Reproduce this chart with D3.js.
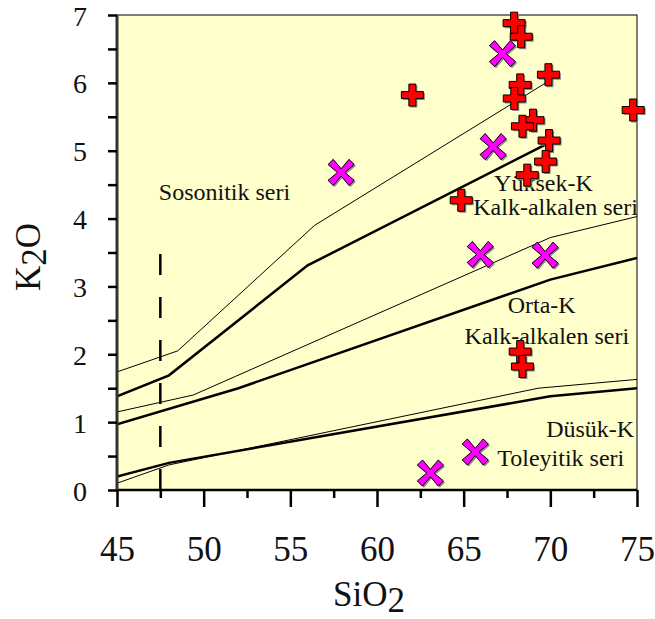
<!DOCTYPE html>
<html>
<head>
<meta charset="utf-8">
<script src="https://cdnjs.cloudflare.com/ajax/libs/d3/7.8.5/d3.min.js"></script>
<style>
  body { margin: 0; background: #fff; }
  svg text { font-family: "Liberation Serif", "Times New Roman", serif; fill: #111; }
</style>
</head>
<body>
<svg id="chart" width="655" height="619"></svg>
<script>
// tick values
var xTicks = [45, 47.5, 50, 52.5, 55, 57.5, 60, 62.5, 65, 67.5, 70, 72.5, 75];
var yTicks = [0, 0.5, 1, 1.5, 2, 2.5, 3, 3.5, 4, 4.5, 5, 5.5, 6, 6.5, 7];

// boundary lines [SiO2, K2O]
var thickHighShos = [[45, 1.38], [48, 1.69], [56, 3.31], [69.8, 5.1]];
var thickMedHigh  = [[45, 0.97], [52, 1.5], [70, 3.1], [75, 3.42]];
var thickLowMed   = [[45, 0.2], [48, 0.4], [70, 1.38], [75, 1.5]];
var thinHighShos  = [[45, 1.74], [48.5, 2.05], [56.4, 3.9], [70.5, 6.12]];
var thinMedHigh   = [[45, 1.15], [49.4, 1.4], [70, 3.72], [75, 4.03]];
var thinLowMed    = [[45, 0.1], [48, 0.37], [69.3, 1.5], [75, 1.63]];
var dashedLine    = [[47.5, 0], [47.5, 3.57]];

// samples
var crossPts = [[67.91, 6.88], [68.32, 6.68], [69.89, 6.12], [68.26, 5.97], [67.92, 5.77],
                [62.04, 5.82], [74.78, 5.6], [69.0, 5.45], [68.39, 5.36], [69.93, 5.15],
                [69.73, 4.84], [68.67, 4.64], [64.86, 4.27], [68.26, 2.04], [68.39, 1.82]];
var xPts = [[67.24, 6.43], [66.7, 5.06], [57.93, 4.68], [65.96, 3.47], [69.7, 3.46],
            [65.67, 0.56], [63.08, 0.25]];

// field labels [text, SiO2, K2O]
var fieldLabels = [
  ["Sosonitik seri", 51.2, 4.27],
  ["Yüksek-K", 69.6, 4.41],
  ["Kalk-alkalen seri", 70.3, 4.06],
  ["Orta-K", 69.5, 2.61],
  ["Kalk-alkalen seri", 69.8, 2.15],
  ["Düsük-K", 72.3, 0.78],
  ["Toleyitik seri", 70.6, 0.36]
];

var svg = d3.select("#chart");
var x = d3.scaleLinear().domain([45, 75]).range([117, 637]);
var y = d3.scaleLinear().domain([0, 7]).range([490, 15]);

svg.append("defs").append("clipPath").attr("id", "clip")
  .append("rect").attr("x", x(45)).attr("y", y(7))
  .attr("width", x(75) - x(45)).attr("height", y(0) - y(7));

// plot background
svg.append("rect")
  .attr("x", x(45)).attr("y", y(7))
  .attr("width", x(75) - x(45)).attr("height", y(0) - y(7))
  .attr("fill", "#ffffcc").attr("stroke", "#000").attr("stroke-width", 1);

var plot = svg.append("g").attr("clip-path", "url(#clip)");
var line = d3.line().x(function(d) { return x(d[0]); }).y(function(d) { return y(d[1]); });

[thinHighShos, thinMedHigh, thinLowMed].forEach(function(l) {
  plot.append("path").datum(l).attr("d", line)
    .attr("fill", "none").attr("stroke", "#000").attr("stroke-width", 1);
});
[thickHighShos, thickMedHigh, thickLowMed].forEach(function(l) {
  plot.append("path").datum(l).attr("d", line)
    .attr("fill", "none").attr("stroke", "#000").attr("stroke-width", 2.5);
});
plot.append("path").datum(dashedLine).attr("d", line)
  .attr("fill", "none").attr("stroke", "#000").attr("stroke-width", 2.5)
  .attr("stroke-dasharray", "21,22");

// field labels
svg.selectAll("text.field").data(fieldLabels).enter().append("text")
  .attr("class", "field")
  .attr("x", function(d) { return x(d[1]); })
  .attr("y", function(d) { return y(d[2]); })
  .attr("text-anchor", "middle")
  .style("font-size", "24px")
  .text(function(d) { return d[0]; });

// markers
var plusPath = "M-3.5,-11H3.5V-3.5H11V3.5H3.5V11H-3.5V3.5H-11V-3.5H-3.5Z";
var xPath = (function() {
  var a = 2.6, b = 10.5;
  return "M0," + (-a * 1.41) + "L" + (b - a) + "," + (-b - a) + "L" + (b + a) + "," + (-b + a) +
    "L" + (a * 1.41) + ",0L" + (b + a) + "," + (b - a) + "L" + (b - a) + "," + (b + a) +
    "L0," + (a * 1.41) + "L" + (-b + a) + "," + (b + a) + "L" + (-b - a) + "," + (b - a) +
    "L" + (-a * 1.41) + ",0L" + (-b - a) + "," + (-b + a) + "L" + (-b + a) + "," + (-b - a) + "Z";
})();

function drawMarkers(data, path, color) {
  var g = svg.append("g");
  g.selectAll("path.shadow").data(data).enter().append("path")
    .attr("d", path).attr("fill", "#8a8a8a")
    .attr("transform", function(d) { return "translate(" + (x(d[0]) + 1.5) + "," + (y(d[1]) + 1.5) + ")"; });
  g.selectAll("path.mark").data(data).enter().append("path")
    .attr("d", path).attr("fill", color).attr("stroke", "#000").attr("stroke-width", 1)
    .attr("transform", function(d) { return "translate(" + x(d[0]) + "," + y(d[1]) + ")"; });
}
drawMarkers(xPts, xPath, "#ff00ff");
drawMarkers(crossPts, plusPath, "#ff0000");

// axes
var xAxis = d3.axisBottom(x).tickValues(xTicks).tickSize(17).tickPadding(29)
  .tickFormat(function(d) { return d % 5 === 0 ? d : ""; });
var gx = svg.append("g").attr("transform", "translate(0," + y(0) + ")").call(xAxis)
  .attr("font-family", "Liberation Serif").attr("font-size", 35);
gx.select(".domain").attr("stroke-width", 2.5).attr("d", "M" + x(45) + ",0H" + x(75));
gx.selectAll(".tick line").attr("stroke-width", 2.5)
  .attr("y2", function(d) { return d % 5 === 0 ? 17 : 8; });
gx.selectAll(".tick text").attr("fill", "#111");

var yAxis = d3.axisLeft(y).tickValues(yTicks).tickSize(9).tickPadding(21)
  .tickFormat(function(d) { return d % 1 === 0 ? d : ""; });
var gy = svg.append("g").attr("transform", "translate(" + x(45) + ",0)").call(yAxis)
  .attr("font-family", "Liberation Serif").attr("font-size", 28);
gy.select(".domain").attr("stroke-width", 3).attr("stroke", "#333").attr("d", "M0," + y(0) + "V" + y(7));
gy.selectAll(".tick line").attr("stroke-width", 2.5);
gy.selectAll(".tick text").attr("fill", "#111").attr("dy", "0.36em");

// axis titles
var xt = svg.append("text").attr("x", 369).attr("y", 606)
  .attr("text-anchor", "middle").style("font-size", "35px");
xt.append("tspan").text("SiO");
xt.append("tspan").attr("dy", 6).text("2");

var yt = svg.append("text")
  .attr("transform", "translate(40,257) rotate(-90)")
  .attr("text-anchor", "middle").style("font-size", "35px");
yt.append("tspan").text("K");
yt.append("tspan").attr("dy", 6).text("2");
yt.append("tspan").attr("dy", -6).text("O");
</script>
</body>
</html>
